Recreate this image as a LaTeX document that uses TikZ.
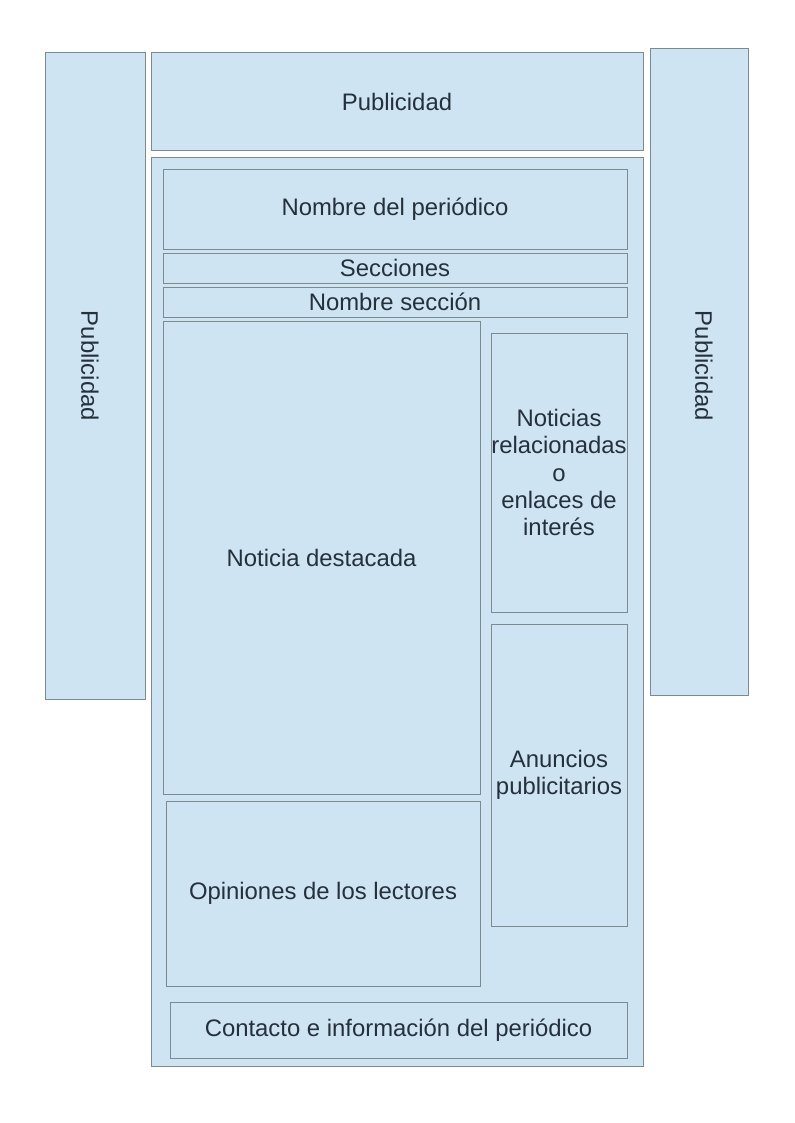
\documentclass[tikz,border=0pt]{standalone}
\usepackage{fontspec}
\setmainfont{Liberation Sans}
\usetikzlibrary{fit}
\definecolor{panelblue}{HTML}{CFE4F2}
\definecolor{panelline}{HTML}{7D8A90}
\definecolor{paneltext}{HTML}{24303C}
\tikzset{
  panel/.style={
    rectangle, draw=panelline, line width=0.75pt, fill=panelblue, inner sep=0pt
  },
  paneltitle/.style={
    align=center, text=paneltext, inner sep=0pt,
    font=\fontsize{17.9pt}{20.3pt}\selectfont
  },
  sidelabel/.style={paneltitle, rotate=-90}
}
% a box given by its corners (in pixels of the page), text at its centre
\newcommand{\panelbox}[6]{
  \node[panel, fit={(#2,#3) (#4,#5)}] (#1) {};
  \node[paneltitle] (#1text) at (#1.center) {#6};
}
\begin{document}
\begin{tikzpicture}[x=0.75pt, y=-0.75pt]
\useasboundingbox (0,0) rectangle (794,1123);
% side and top adverts
\panelbox{publeft}{45}{53}{145}{699}{}
\panelbox{pubtop}{151}{53}{643}{151}{Publicidad}
\panelbox{pubright}{650}{49}{748}{695}{}
\node[sidelabel] (publeftlabel) at (90,366) {Publicidad};
\node[sidelabel] (pubrightlabel) at (704,366) {Publicidad};
% page body
\panelbox{body}{151}{158}{643}{1066}{}
\panelbox{nombre}{163}{170}{627}{249}{Nombre del periódico}
\panelbox{secciones}{163}{253}{627}{283}{Secciones}
\panelbox{seccion}{163}{287}{627}{317}{Nombre sección}
\panelbox{destacada}{163}{321}{480}{794}{Noticia destacada}
\panelbox{relacionadas}{491}{333}{627}{612}{Noticias\\relacionadas\\o\\enlaces de\hspace*{5pt}\\interés}
\panelbox{anuncios}{491}{624}{627}{926}{Anuncios\\publicitarios}
\panelbox{opiniones}{166}{801}{480}{986}{Opiniones de los lectores}
\panelbox{contacto}{170}{1002}{627}{1058}{Contacto e información del periódico}
\end{tikzpicture}
\end{document}
